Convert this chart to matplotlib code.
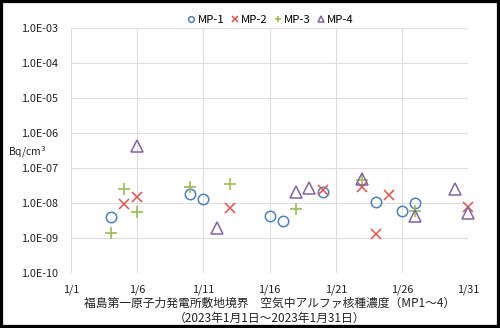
import matplotlib

matplotlib.use("Agg")
import matplotlib.pyplot as plt
import matplotlib.dates as mdates
import pandas as pd
from matplotlib.patches import Rectangle
from matplotlib.ticker import FixedLocator

plt.rcParams["font.family"] = ["Noto Sans CJK JP", "DejaVu Sans"]

# data (Bq/cm3)
mp1_dates = ["2023-01-04", "2023-01-10", "2023-01-11", "2023-01-16", "2023-01-17",
             "2023-01-20", "2023-01-24", "2023-01-26", "2023-01-27"]
mp1_vals = [4.0e-9, 1.8e-8, 1.35e-8, 4.2e-9, 3.2e-9, 2.1e-8, 1.07e-8, 5.9e-9, 1.0e-8]

mp2_dates = ["2023-01-05", "2023-01-06", "2023-01-13", "2023-01-20", "2023-01-23",
             "2023-01-24", "2023-01-25", "2023-01-31"]
mp2_vals = [9.5e-9, 1.5e-8, 7.2e-9, 2.4e-8, 2.9e-8, 1.3e-9, 1.76e-8, 7.7e-9]

mp3_dates = ["2023-01-04", "2023-01-05", "2023-01-06", "2023-01-10", "2023-01-13",
             "2023-01-18", "2023-01-23", "2023-01-27"]
mp3_vals = [1.45e-9, 2.5e-8, 5.8e-9, 2.9e-8, 3.6e-8, 6.9e-9, 4.6e-8, 6.0e-9]

mp4_dates = ["2023-01-06", "2023-01-12", "2023-01-18", "2023-01-19", "2023-01-23",
             "2023-01-27", "2023-01-30", "2023-01-31"]
mp4_vals = [4.3e-7, 2.0e-9, 2.1e-8, 2.8e-8, 4.9e-8, 4.4e-9, 2.5e-8, 5.3e-9]

tick_dates = ["2023-01-01", "2023-01-06", "2023-01-11", "2023-01-16",
              "2023-01-21", "2023-01-26", "2023-01-31"]
tick_labels = ["1/1", "1/6", "1/11", "1/16", "1/21", "1/26", "1/31"]
y_ticks = [1e-10, 1e-9, 1e-8, 1e-7, 1e-6, 1e-5, 1e-4, 1e-3]
y_labels = ["1.0E-10", "1.0E-09", "1.0E-08", "1.0E-07", "1.0E-06", "1.0E-05",
            "1.0E-04", "1.0E-03"]

fig = plt.figure(figsize=(5.0, 3.28), dpi=100)
ax = fig.add_axes([0.142, 0.1668, 0.7946, 0.7469])

series = [
    ("MP-1", mp1_dates, mp1_vals, dict(marker="o", mfc="none", mec="#4F81BD", ms=7.5, mew=1.1)),
    ("MP-2", mp2_dates, mp2_vals, dict(marker="x", color="#D9534F", ms=7.5, mew=1.1)),
    ("MP-3", mp3_dates, mp3_vals, dict(marker="+", color="#9BBB59", ms=8, mew=1.2)),
    ("MP-4", mp4_dates, mp4_vals, dict(marker="^", mfc="none", mec="#8064A2", ms=8, mew=1.1)),
]
for name, dates, vals, style in series:
    ax.plot(pd.to_datetime(dates), vals, linestyle="none", label=name, clip_on=False, **style)

ax.set_yscale("log")
ax.set_ylim(1e-10, 1e-3)
ax.set_xlim(pd.Timestamp("2023-01-01"), pd.Timestamp("2023-01-31"))
ax.yaxis.set_major_locator(FixedLocator(y_ticks))
ax.yaxis.set_minor_locator(FixedLocator([]))
ax.set_yticklabels(y_labels)
ax.set_xticks(mdates.date2num(pd.to_datetime(tick_dates)))
ax.set_xticklabels(tick_labels)
ax.tick_params(length=0, labelsize=7.8, colors="#222222")
ax.tick_params(axis="x", pad=8)
ax.tick_params(axis="y", pad=9)
ax.grid(True, color="#DDDDDD", linewidth=0.8)
for spine in ax.spines.values():
    spine.set_visible(False)
ax.set_axisbelow(True)

ax.set_xlabel("福島第一原子力発電所敷地境界　空気中アルファ核種濃度（MP1～4）\n"
              "（2023年1月1日～2023年1月31日）",
              fontsize=8.5, labelpad=1, linespacing=1.25, color="#222222")

fig.text(0.016, 1 - 152 / 328, "Bq/cm$^3$", fontsize=7.5, va="center", ha="left",
         color="#222222")

ax.legend(loc="center", bbox_to_anchor=(271 / 500, 1 - 20 / 328),
          bbox_transform=fig.transFigure,
          ncol=4, frameon=False, fontsize=8.2, handlelength=0.6, handletextpad=0.25,
          columnspacing=0.6, borderpad=0, markerscale=0.55)

fig.patches.append(Rectangle((0, 0), 1, 1, transform=fig.transFigure, fill=False,
                             edgecolor="black", linewidth=4.5))

fig.savefig("out.png", dpi=100)
plt.close(fig)
